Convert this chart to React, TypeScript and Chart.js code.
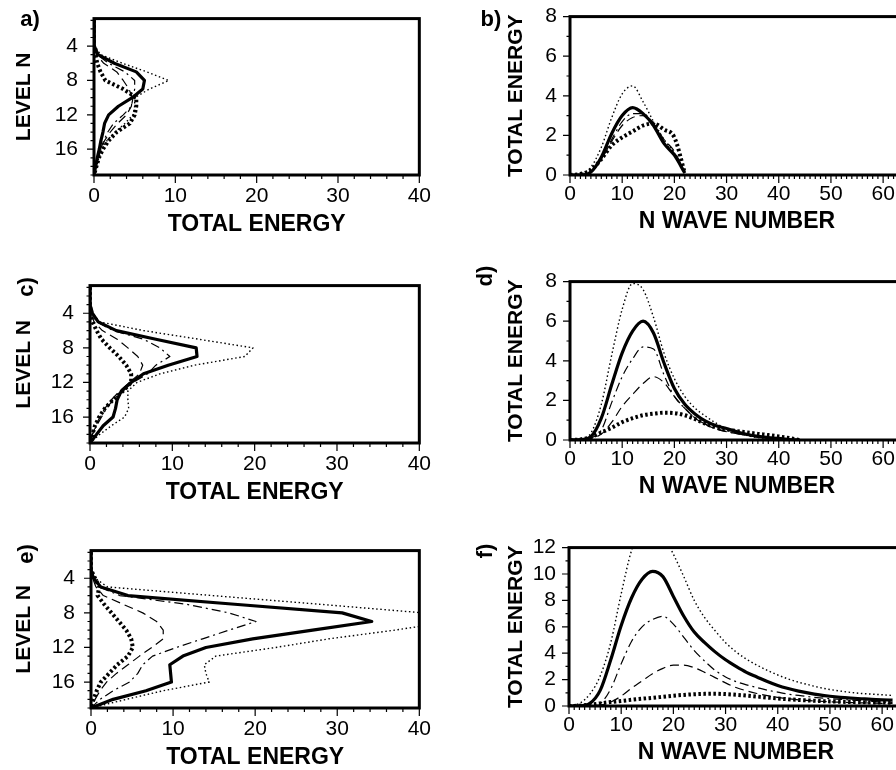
import React, { useEffect, useRef } from 'react';
import { Chart, registerables } from 'chart.js';
Chart.register(...registerables);
Chart.defaults.font.family = '"Liberation Sans", Arial, Helvetica, sans-serif';

// ---------- data: vertical profiles (energy vs level) ----------
const LEVELS = [1, 2, 3, 4, 5, 6, 7, 8, 9, 10, 11, 12, 13, 14, 15, 16, 17, 18, 19];

const A_THIN_DOT = [0, 0, 0, 0.1, 0.8, 3.5, 6.5, 9.2, 6.8, 5.0, 5.0, 4.8, 3.8, 2.6, 1.6, 1.0, 0.6, 0.3, 0];
const A_SOLID = [0, 0, 0, 0.1, 0.5, 2.5, 5.2, 6.2, 6.0, 4.7, 3.0, 1.8, 1.3, 1.1, 0.85, 0.65, 0.4, 0.2, 0];
const A_DASH_DOT = [0, 0, 0, 0, 0.4, 1.8, 3.8, 5.0, 5.0, 4.8, 4.6, 3.6, 2.4, 1.7, 1.2, 0.8, 0.5, 0.2, 0];
const A_DASHED = [0, 0, 0, 0, 0.3, 1.2, 2.8, 3.6, 4.3, 4.7, 4.6, 4.0, 2.9, 2.0, 1.3, 0.9, 0.5, 0.2, 0];
const A_THICK_DOT = [0, 0, 0, 0, 0.2, 0.4, 0.8, 1.4, 3.6, 5.2, 5.2, 5.0, 4.4, 2.8, 1.8, 1.1, 0.6, 0.3, 0];

const C_THIN_DOT = [0, 0, 0, 0.3, 1.2, 6.5, 13.2, 19.8, 18.8, 12.7, 8.5, 5.7, 4.6, 4.6, 4.7, 4.2, 2.6, 1.2, 0];
const C_SOLID = [0, 0, 0, 0.3, 1.0, 3.2, 8.0, 12.9, 13.0, 9.5, 6.5, 5.0, 3.8, 3.3, 3.1, 2.8, 1.6, 0.8, 0];
const C_DASH_DOT = [0, 0, 0, 0.2, 0.8, 2.8, 6.5, 8.5, 9.7, 8.0, 7.0, 5.2, 4.0, 2.8, 2.0, 1.4, 0.8, 0.3, 0];
const C_DASHED = [0, 0, 0, 0.1, 0.5, 1.5, 3.3, 4.6, 5.8, 6.4, 6.0, 4.8, 3.6, 2.6, 1.8, 1.2, 0.7, 0.3, 0];
const C_THICK_DOT = [0, 0, 0, 0.1, 0.3, 0.8, 1.4, 2.4, 3.5, 4.4, 5.0, 5.0, 4.0, 2.8, 1.8, 1.1, 0.6, 0.3, 0];

const E_THIN_DOT = [0, 0, 0, 0.5, 2.0, 14.8, 27.8, 40.5, 44.0, 37.0, 29.0, 22.5, 15.2, 13.8, 14.0, 14.4, 8.8, 4.3, 0];
const E_SOLID = [0, 0, 0, 0.3, 1.2, 4.5, 17.5, 30.6, 34.2, 27.0, 19.7, 14.0, 11.2, 9.6, 9.7, 9.8, 6.7, 2.7, 0];
const E_DASH_DOT = [0, 0, 0, 0.3, 1.0, 3.5, 11.6, 16.8, 20.1, 16.8, 13.6, 10.4, 7.5, 6.3, 5.7, 4.7, 2.7, 1.1, 0];
const E_DASHED = [0, 0, 0, 0.2, 0.6, 1.5, 3.9, 6.3, 8.0, 8.8, 8.8, 7.4, 5.9, 4.5, 3.1, 1.9, 1.1, 0.5, 0];
const E_THICK_DOT = [0, 0, 0, 0.5, 1.0, 0.8, 1.6, 2.5, 3.4, 4.3, 4.9, 5.1, 4.5, 3.2, 2.2, 1.2, 0.7, 0.3, 0];

// ---------- data: spectra (energy vs wave number) ----------
const N_B = [0, 2, 4, 6, 8, 10, 12, 14, 16, 18, 20, 22];
const B_THIN_DOT = [0, 0.05, 0.4, 1.4, 2.9, 4.1, 4.5, 3.7, 2.7, 1.8, 1.1, 0.05];
const B_SOLID = [0, 0, 0.15, 0.9, 2.1, 3.0, 3.4, 3.1, 2.5, 1.6, 1.0, 0.1];
const B_DASH_DOT = [0, 0, 0.15, 0.8, 1.8, 2.7, 3.1, 3.1, 2.6, 1.7, 1.1, 0.1];
const B_DASHED = [0, 0, 0.15, 0.8, 1.7, 2.5, 2.9, 3.0, 2.6, 1.8, 1.2, 0.1];
const B_THICK_DOT = [0, 0.05, 0.25, 0.8, 1.5, 1.9, 2.2, 2.5, 2.6, 2.3, 1.9, 0.1];

const N_D = [0, 2, 4, 6, 8, 10, 12, 14, 16, 18, 20, 22, 24, 26, 28, 30, 32, 34, 36, 38, 40, 42, 44];
const D_THIN_DOT = [0, 0.02, 0.35, 1.8, 4.3, 6.6, 7.9, 7.6, 6.2, 4.4, 3.1, 2.2, 1.6, 1.2, 0.85, 0.55, 0.35, 0.22, 0.12, 0.06, 0.02, 0, 0];
const D_SOLID = [0, 0.02, 0.17, 1.1, 2.8, 4.4, 5.5, 6.0, 5.4, 3.9, 2.6, 1.8, 1.3, 0.95, 0.72, 0.58, 0.42, 0.28, 0.18, 0.12, 0.08, 0.02, 0];
const D_DASH_DOT = [0, 0, 0.1, 0.5, 1.9, 3.2, 4.1, 4.7, 4.6, 3.3, 2.2, 1.6, 1.1, 0.8, 0.58, 0.42, 0.32, 0.23, 0.15, 0.1, 0.05, 0.02, 0];
const D_DASHED = [0, 0, 0.08, 0.3, 0.9, 1.7, 2.3, 2.85, 3.2, 2.9, 2.2, 1.6, 1.1, 0.78, 0.55, 0.42, 0.32, 0.24, 0.16, 0.1, 0.05, 0.02, 0];
const D_THICK_DOT = [0, 0.03, 0.15, 0.38, 0.62, 0.9, 1.1, 1.25, 1.33, 1.38, 1.36, 1.25, 1.05, 0.82, 0.64, 0.53, 0.45, 0.38, 0.31, 0.25, 0.18, 0.1, 0];

const N_F = [0, 2, 4, 6, 8, 10, 12, 14, 16, 18, 20, 22, 24, 26, 28, 30, 32, 34, 36, 38, 40, 42, 44, 46, 48, 50, 52, 54, 56, 58, 60, 62];
const F_THIN_DOT = [0, 0.2, 0.9, 2.3, 4.8, 8.5, 11.8, 13.5, 13.8, 13.0, 11.5, 9.8, 8.0, 6.7, 5.7, 4.8, 4.1, 3.55, 3.1, 2.7, 2.35, 2.05, 1.8, 1.6, 1.4, 1.25, 1.13, 1.03, 0.95, 0.9, 0.85, 0.8];
const F_SOLID = [0, 0.01, 0.2, 1.2, 3.5, 6.1, 8.2, 9.6, 10.2, 9.8, 8.3, 6.8, 5.6, 4.8, 4.1, 3.5, 3.0, 2.55, 2.2, 1.85, 1.55, 1.32, 1.13, 0.97, 0.84, 0.74, 0.66, 0.6, 0.55, 0.5, 0.47, 0.45];
const F_DASH_DOT = [0, 0, 0.02, 0.2, 1.3, 3.2, 4.9, 6.0, 6.55, 6.8, 6.2, 5.2, 4.2, 3.4, 2.7, 2.2, 1.85, 1.6, 1.4, 1.2, 1.05, 0.9, 0.8, 0.7, 0.62, 0.55, 0.5, 0.45, 0.4, 0.35, 0.3, 0.27];
const F_DASHED = [0, 0, 0.02, 0.08, 0.3, 0.75, 1.35, 1.9, 2.45, 2.85, 3.1, 3.1, 2.9, 2.55, 2.15, 1.75, 1.4, 1.15, 0.95, 0.78, 0.65, 0.55, 0.47, 0.41, 0.36, 0.32, 0.29, 0.26, 0.24, 0.22, 0.2, 0.19];
const F_THICK_DOT = [0, 0.02, 0.1, 0.2, 0.3, 0.38, 0.47, 0.55, 0.62, 0.7, 0.78, 0.84, 0.89, 0.92, 0.93, 0.9, 0.85, 0.79, 0.72, 0.64, 0.57, 0.51, 0.46, 0.42, 0.38, 0.35, 0.32, 0.3, 0.28, 0.27, 0.26, 0.25];

// ---------- tick labels ----------
const LEVEL_TICKS = [4, 8, 12, 16];
const ENERGY_X_TICKS = [0, 10, 20, 30, 40];
const WAVE_X_TICKS = [0, 10, 20, 30, 40, 50, 60];
const ENERGY_Y_TICKS_8 = [0, 2, 4, 6, 8];
const ENERGY_Y_TICKS_12 = [0, 2, 4, 6, 8, 10, 12];

const range = (a: number, b: number, s: number) => {
  const r: number[] = [];
  for (let v = a; v <= b + 1e-9; v += s) r.push(v);
  return r;
};

// line styles: thin dotted, thick solid, dash-dot, dashed, thick dotted
const STYLES = [
  { borderWidth: 1.4, borderDash: [1.5, 2.6] },
  { borderWidth: 3.2, borderDash: [] as number[] },
  { borderWidth: 1.2, borderDash: [9, 4, 2, 4] },
  { borderWidth: 1.2, borderDash: [9, 5] },
  { borderWidth: 4, borderDash: [2.5, 2.5] },
];

const framePlugin = {
  id: 'frame',
  afterDatasetsDraw(chart: any, _args: any, opts: any) {
    const { ctx, chartArea: a, scales } = chart;
    const xs = scales.x, ys = scales.y;
    ctx.save();
    ctx.strokeStyle = '#000';
    ctx.lineWidth = 1.2;
    ctx.beginPath();
    const drawX = (vals: number[], len: number) => {
      for (const v of vals) {
        const px = xs.getPixelForValue(v);
        if (px < a.left - 0.5 || px > a.right + 0.5) continue;
        ctx.moveTo(px, a.bottom);
        ctx.lineTo(px, a.bottom + len);
      }
    };
    const drawY = (vals: number[], len: number) => {
      for (const v of vals) {
        const py = ys.getPixelForValue(v);
        if (py < a.top - 0.5 || py > a.bottom + 0.5) continue;
        ctx.moveTo(a.left, py);
        ctx.lineTo(a.left - len, py);
      }
    };
    drawX(opts.xMinor, 4);
    drawX(opts.xMajor, 8);
    drawY(opts.yMinor, 3.5);
    drawY(opts.yMajor, 7);
    ctx.stroke();
    ctx.lineWidth = 3;
    ctx.strokeRect(a.left, a.top, a.right - a.left, a.bottom - a.top);
    ctx.fillStyle = '#000';
    ctx.font = 'bold 22px "Liberation Sans", Arial, sans-serif';
    ctx.textAlign = 'center';
    ctx.textBaseline = 'middle';
    ctx.translate(opts.label.x, opts.label.y);
    if (opts.label.rot) ctx.rotate(-Math.PI / 2);
    ctx.fillText(opts.label.text, 0, 0);
    ctx.restore();
  },
};

type PanelDef = {
  kind: 'level' | 'wave';
  canvas: { left: number; top: number; width: number; height: number };
  area: { left: number; top: number; right: number; bottom: number };
  label: { text: string; x: number; y: number; rot: boolean };
  xVals: number[] | null;
  series: number[][];
  yMax?: number;
  yTicks?: number[];
  yTitlePad: number;
};

function leftCanvas(area: { top: number; bottom: number }) {
  const top = area.top - 20;
  return { left: 0, top, width: 440, height: area.bottom + 63 - top };
}
function rightCanvas(area: { top: number; bottom: number }) {
  const top = area.top - 20;
  return { left: 440, top, width: 474, height: area.bottom + 60 - top };
}

const AREA_A = { left: 94, top: 10, right: 425, bottom: 175 };
const AREA_C = { left: 90, top: 277, right: 420, bottom: 443 };
const AREA_E = { left: 91, top: 542, right: 421, bottom: 708 };
const AREA_B = { left: 570, top: 11, right: 904, bottom: 175 };
const AREA_D = { left: 570, top: 276, right: 904, bottom: 440 };
const AREA_F = { left: 569, top: 542, right: 903, bottom: 706 };

const PANELS: PanelDef[] = [
  { kind: 'level', canvas: leftCanvas(AREA_A), area: AREA_A, label: { text: 'a)', x: 30, y: 20, rot: false }, xVals: null, series: [A_THIN_DOT, A_SOLID, A_DASH_DOT, A_DASHED, A_THICK_DOT], yTitlePad: 12 },
  { kind: 'wave', canvas: rightCanvas(AREA_B), area: AREA_B, label: { text: 'b)', x: 491, y: 20, rot: false }, xVals: N_B, series: [B_THIN_DOT, B_SOLID, B_DASH_DOT, B_DASHED, B_THICK_DOT], yMax: 8, yTicks: ENERGY_Y_TICKS_8, yTitlePad: 64 },
  { kind: 'level', canvas: leftCanvas(AREA_C), area: AREA_C, label: { text: 'c)', x: 27, y: 287, rot: true }, xVals: null, series: [C_THIN_DOT, C_SOLID, C_DASH_DOT, C_DASHED, C_THICK_DOT], yTitlePad: 12 },
  { kind: 'wave', canvas: rightCanvas(AREA_D), area: AREA_D, label: { text: 'd)', x: 486, y: 276, rot: true }, xVals: N_D, series: [D_THIN_DOT, D_SOLID, D_DASH_DOT, D_DASHED, D_THICK_DOT], yMax: 8, yTicks: ENERGY_Y_TICKS_8, yTitlePad: 64 },
  { kind: 'level', canvas: leftCanvas(AREA_E), area: AREA_E, label: { text: 'e)', x: 27, y: 554, rot: true }, xVals: null, series: [E_THIN_DOT, E_SOLID, E_DASH_DOT, E_DASHED, E_THICK_DOT], yTitlePad: 12 },
  { kind: 'wave', canvas: rightCanvas(AREA_F), area: AREA_F, label: { text: 'f)', x: 486, y: 551, rot: true }, xVals: N_F, series: [F_THIN_DOT, F_SOLID, F_DASH_DOT, F_DASHED, F_THICK_DOT], yMax: 12, yTicks: ENERGY_Y_TICKS_12, yTitlePad: 64 },
];

function buildConfig(p: PanelDef): any {
  const c = p.canvas;
  const isLevel = p.kind === 'level';
  const datasets = p.series.map((vals, i) => ({
    data: isLevel
      ? vals.map((v, k) => ({ x: v, y: LEVELS[k] }))
      : vals.map((v, k) => ({ x: (p.xVals as number[])[k], y: v })),
    borderColor: '#000',
    backgroundColor: '#000',
    borderWidth: STYLES[i].borderWidth,
    borderDash: STYLES[i].borderDash,
    borderCapStyle: 'butt',
    borderJoinStyle: 'round',
    pointRadius: 0,
    fill: false,
    tension: isLevel ? 0 : 0.4,
    cubicInterpolationMode: isLevel ? 'default' : 'monotone',
  }));
  const xMajor = isLevel ? ENERGY_X_TICKS : WAVE_X_TICKS;
  const yMajor = isLevel ? LEVEL_TICKS : (p.yTicks as number[]);
  const yLeftW = p.area.left - c.left;
  const xH = c.top + c.height - p.area.bottom;
  const tickFont = { size: 21, family: '"Liberation Sans", Arial, sans-serif' };
  return {
    type: 'line',
    data: { datasets },
    plugins: [framePlugin],
    options: {
      animation: false,
      responsive: false,
      devicePixelRatio: 1,
      layout: { padding: { top: p.area.top - c.top, left: 0, right: c.left + c.width - p.area.right, bottom: 0 } },
      plugins: {
        legend: { display: false },
        tooltip: { enabled: false },
        frame: {
          xMajor,
          xMinor: isLevel ? range(0, 40, 2) : range(0, 64, 1),
          yMajor,
          yMinor: isLevel ? range(1, 19, 1) : range(0, p.yMax as number, 1),
          label: { text: p.label.text, x: p.label.x - c.left, y: p.label.y - c.top, rot: p.label.rot },
        },
      },
      scales: {
        x: {
          type: 'linear',
          min: 0,
          max: isLevel ? 40 : 64,
          grid: { display: false, drawTicks: false },
          border: { display: false },
          ticks: { color: '#000', font: tickFont, padding: isLevel ? 9 : 7, autoSkip: false, maxRotation: 0, callback: (v: any) => String(v) },
          afterBuildTicks: (s: any) => { s.ticks = xMajor.map((v) => ({ value: v })); },
          afterFit: (s: any) => { s.height = xH; },
          title: {
            display: true,
            text: isLevel ? 'TOTAL ENERGY' : 'N WAVE NUMBER',
            color: '#000',
            font: { size: 23, weight: 'bold' },
            padding: { top: 0, bottom: 0 },
          },
        },
        y: {
          type: 'linear',
          min: isLevel ? 0.8 : 0,
          max: isLevel ? 19 : p.yMax,
          reverse: isLevel,
          grid: { display: false, drawTicks: false },
          border: { display: false },
          ticks: { color: '#000', font: tickFont, padding: isLevel ? 16 : 13, autoSkip: false, callback: (v: any) => String(v) },
          afterBuildTicks: (s: any) => { s.ticks = yMajor.map((v) => ({ value: v })); },
          afterFit: (s: any) => { s.width = yLeftW; },
          title: {
            display: true,
            text: isLevel ? 'LEVEL N' : 'TOTAL ENERGY',
            color: '#000',
            font: { size: 21, weight: 'bold' },
            padding: { top: p.yTitlePad, bottom: 0 },
          },
        },
      },
    },
  };
}

function Panel({ p }: { p: PanelDef }) {
  const ref = useRef<HTMLCanvasElement | null>(null);
  useEffect(() => {
    if (!ref.current) return;
    const chart = new Chart(ref.current, buildConfig(p));
    return () => chart.destroy();
  }, [p]);
  return (
    <div style={{ position: 'absolute', left: p.canvas.left, top: p.canvas.top, width: p.canvas.width, height: p.canvas.height }}>
      <canvas ref={ref} width={p.canvas.width} height={p.canvas.height} style={{ display: 'block' }} />
    </div>
  );
}

export default function App() {
  return (
    <div style={{ position: 'fixed', left: 0, top: 0, width: 896, height: 770, overflow: 'hidden', background: '#fff' }}>
      {PANELS.map((p, i) => (
        <Panel key={i} p={p} />
      ))}
    </div>
  );
}
